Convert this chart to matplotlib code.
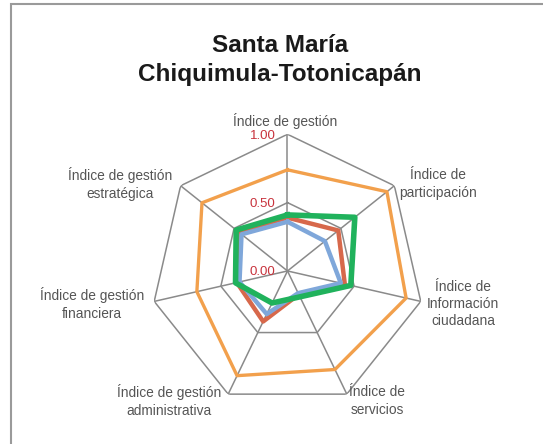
import matplotlib
matplotlib.use("Agg")
import matplotlib.pyplot as plt
import numpy as np

plt.rcParams['font.family'] = ['Liberation Sans', 'DejaVu Sans']

categorias = ["Índice de gestión", "Índice de\nparticipación", "Índice de\nInformación\nciudadana",
              "Índice de\nservicios", "Índice de gestión\nadministrativa",
              "Índice de gestión\nfinanciera", "Índice de gestión\nestratégica"]
serie_naranja = [0.74, 0.93, 0.89, 0.80, 0.85, 0.68, 0.80]
serie_roja = [0.39, 0.475, 0.43, 0.19, 0.41, 0.38, 0.46]
serie_azul = [0.36, 0.35, 0.40, 0.18, 0.35, 0.36, 0.43]
serie_verde = [0.41, 0.63, 0.475, 0.21, 0.26, 0.39, 0.48]
niveles = [0.0, 0.5, 1.0]
etiquetas_niveles = ["0.00", "0.50", "1.00"]

n = len(categorias)
ang = np.linspace(0, 2 * np.pi, n, endpoint=False)
ang_c = np.append(ang, ang[0])

fig = plt.figure(figsize=(5.43, 4.44), dpi=100)
# marco gris
fig.patches.append(plt.Rectangle((11 / 543, -0.05), 1.0, 1.05 - 4 / 444, transform=fig.transFigure,
                                 fill=False, edgecolor="#9a9a9a", linewidth=1.5))

ax = fig.add_axes([0.2777, 0.0818, 0.5035, 0.6158], projection="polar")
ax.set_theta_zero_location("N")
ax.set_theta_direction(-1)
ax.set_ylim(0, 1)
ax.grid(False)
ax.spines["polar"].set_visible(False)
ax.set_xticks([])
ax.set_yticks([])
ax.patch.set_visible(False)

# rejilla heptagonal
for r in niveles[1:]:
    ax.plot(ang_c, [r] * (n + 1), color="#8a8a8a", linewidth=1.1, zorder=1)
for a in ang:
    ax.plot([a, a], [0, 1], color="#8a8a8a", linewidth=1.1, zorder=1)

def cerrar(v):
    return v + v[:1]

ax.plot(ang_c, cerrar(serie_naranja), color="#F2A04C", linewidth=2.4, zorder=3)
ax.plot(ang_c, cerrar(serie_roja), color="#D7684B", linewidth=3.2, zorder=4)
ax.plot(ang_c, cerrar(serie_azul), color="#7FA7DA", linewidth=3.2, zorder=5)
ax.plot(ang_c, cerrar(serie_verde), color="#20B25C", linewidth=4.0, zorder=6)

# etiquetas de nivel
for r, t in zip(niveles, etiquetas_niveles):
    ax.annotate(t, xy=(0, r), xytext=(-8.5, -1), textcoords="offset points",
                color="#C8323C", fontsize=9.5, ha="right", va="center", zorder=7)

# etiquetas de categorias (posiciones en pixeles de la figura)
pos = [(285, 121), (438, 184), (463, 304), (377, 401), (169, 401), (92, 304), (120, 184)]
for (x, y), c in zip(pos, categorias):
    fig.text(x / 543, 1 - y / 444, c, ha="center", va="center", fontsize=9.9,
             color="#555555", linespacing=1.3)

fig.text(280 / 543, 1 - 60 / 444, "Santa María\nChiquimula-Totonicapán", ha="center", va="center",
         fontsize=17.5, fontweight="bold", color="#1a1a1a", linespacing=1.38)

fig.savefig("out.png", dpi=100)
